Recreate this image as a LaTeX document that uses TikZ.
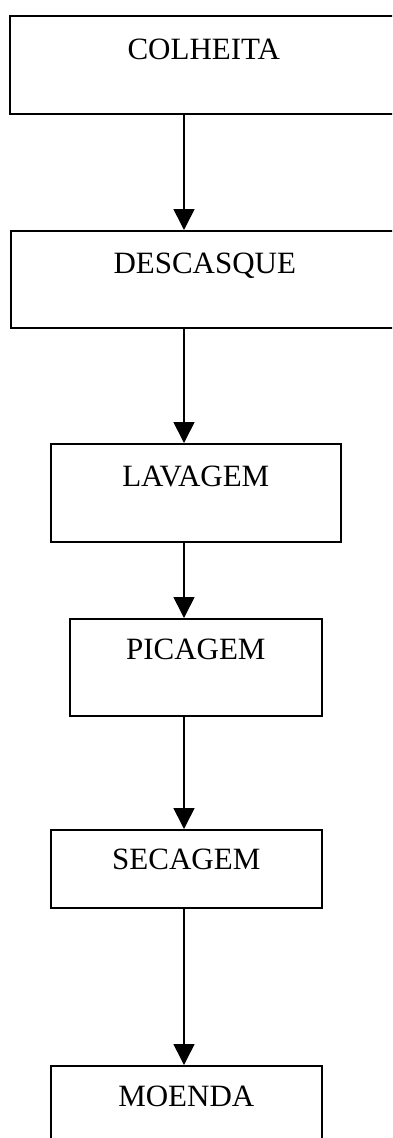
\documentclass[tikz,border=0pt]{standalone}
\usepackage{fontspec}
\setmainfont{Liberation Serif}
\usetikzlibrary{arrows.meta}
\begin{document}
\begin{tikzpicture}[x=1pt,y=-1pt,
  stepbox/.style={draw, line width=1.6pt, rectangle, anchor=north west,
    inner xsep=0pt, inner ysep=0pt, font=\fontsize{31}{36}\selectfont},
  flow/.style={line width=1.6pt, -{Triangle[length=21pt,width=21pt]}}]
\useasboundingbox (0,0) rectangle (392,1138);
\clip (0,0) rectangle (392,1138);
\fill[white] (0,0) rectangle (392,1138);
\coordinate (ax) at (184,0);
\node[stepbox, minimum width=388pt, text height=43.3pt, text depth=54.7pt] (c1) at (9,15) {COLHEITA};
\node[stepbox, minimum width=388pt, text height=42.3pt, text depth=54.7pt] (c2) at (10,230) {DESCASQUE};
\node[stepbox, minimum width=290pt, text height=42.3pt, text depth=55.7pt] (c3) at (50,443) {LAVAGEM};
\node[stepbox, minimum width=252pt, text height=40.3pt, text depth=56.7pt] (c4) at (69,618) {PICAGEM};
\node[stepbox, minimum width=271pt, text height=39.3pt, text depth=38.7pt] (c5) at (50,829) {SECAGEM};
\node[stepbox, minimum width=271pt, text height=40.3pt, text depth=54.7pt] (c6) at (50,1065) {MOENDA};
\draw[flow] (c1.south -| ax) -- (c2.north -| ax);
\draw[flow] (c2.south -| ax) -- (c3.north -| ax);
\draw[flow] (c3.south -| ax) -- (c4.north -| ax);
\draw[flow] (c4.south -| ax) -- (c5.north -| ax);
\draw[flow] (c5.south -| ax) -- (c6.north -| ax);
\end{tikzpicture}
\end{document}
